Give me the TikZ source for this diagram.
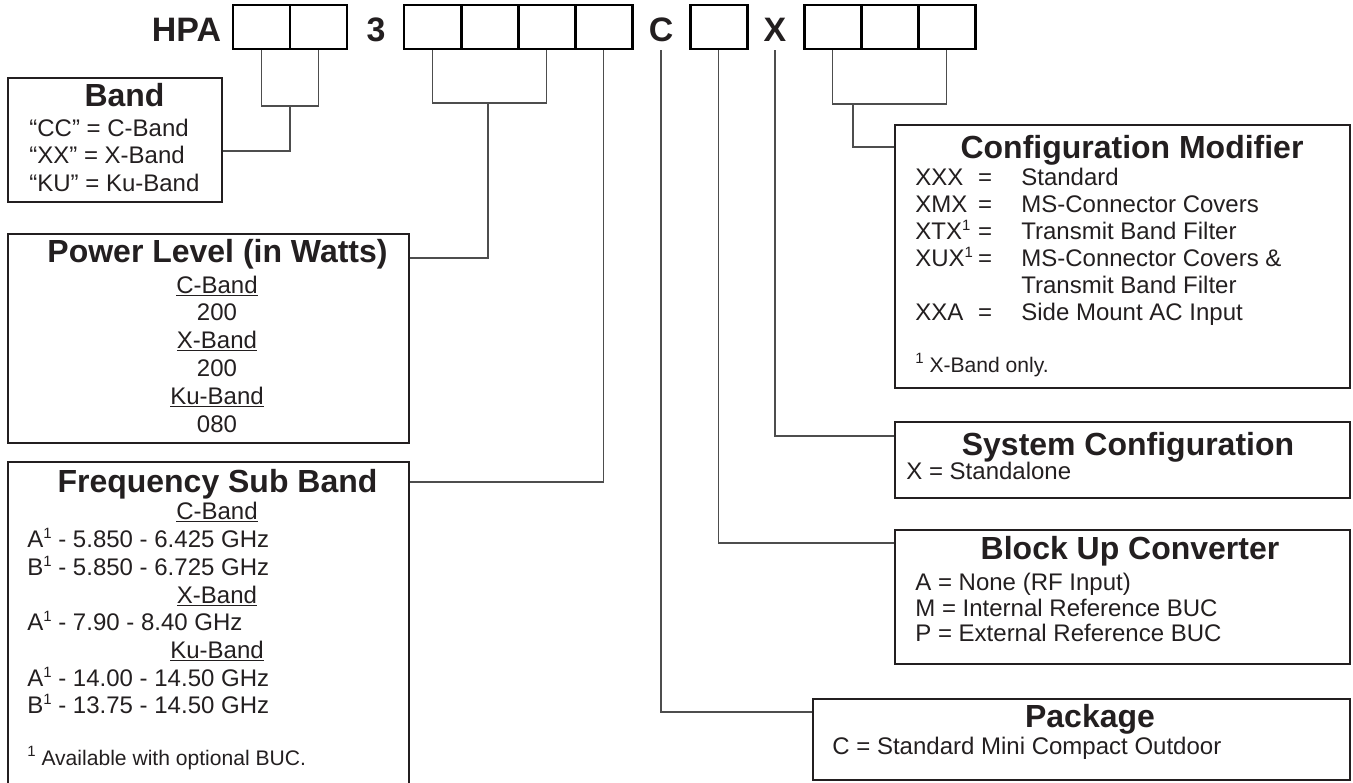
\documentclass[tikz,border=0pt]{standalone}
\usepackage{fontspec}
\setmainfont{Liberation Sans}
\definecolor{ink}{HTML}{231F20}
\definecolor{wire}{HTML}{4D4D4D}
\newcommand{\fnmark}{\raisebox{5pt}{\fontsize{8.5}{9}\selectfont 1}}

\begin{document}
\begin{tikzpicture}[x=0.2cm, y=0.2cm,
  cell/.style={draw=black, line width=1.7pt, minimum width=1.14cm, minimum height=0.88cm},
  frame/.style={draw=ink, line width=1.1pt, anchor=north west},
  link/.style={draw=wire, line width=1.1pt},
  code/.style={font=\fontsize{19.3}{22}\selectfont\bfseries, text=ink, anchor=base},
  head/.style={font=\fontsize{18.2}{21}\selectfont\bfseries, text=ink, anchor=base},
  item/.style={font=\fontsize{13.66}{16}\selectfont, text=ink, anchor=base west},
  sub/.style={item, anchor=base},
  note/.style={font=\fontsize{12}{14}\selectfont, text=ink, anchor=base west}]
\tikzstyle{every node}+=[inner sep=0pt]
\useasboundingbox (0,0) rectangle (135.3,-78.2);
\clip (0,0) rectangle (135.3,-78.2);
\foreach \i/\x in {1/26.15, 2/31.85}
  \node[cell] (hpa\i) at (\x,-2.7) {};
\foreach \i/\x in {1/43.25, 2/48.95, 3/54.65, 4/60.35}
  \node[cell] (pw\i) at (\x,-2.7) {};
\node[cell] (buc) at (71.85,-2.7) {};
\foreach \i/\x in {1/83.25, 2/88.95, 3/94.65}
  \node[cell] (cm\i) at (\x,-2.7) {};
\node[code] (hpa) at (18.65,-4.2) {HPA};
\node[code] (three) at (37.6,-4.2) {3};
\node[code] (pkgc) at (66.1,-4.2) {C};
\node[code] (sysx) at (77.5,-4.2) {X};
\node[frame, minimum width=4.28cm, minimum height=2.48cm] (band) at (0.7,-7.7) {};
\node[frame, minimum width=8.02cm, minimum height=4.18cm] (power) at (0.7,-23.3) {};
\node[frame, minimum width=8.02cm, minimum height=6.8cm] (freq) at (0.7,-46.1) {};
\node[frame, minimum width=9.1cm, minimum height=5.26cm] (cfgmod) at (89.4,-12.4) {};
\node[frame, minimum width=9.1cm, minimum height=1.52cm] (syscfg) at (89.4,-42.1) {};
\node[frame, minimum width=9.1cm, minimum height=2.68cm] (bucbox) at (89.4,-52.9) {};
\node[frame, minimum width=10.74cm, minimum height=1.62cm] (pkg) at (81.2,-69.8) {};
\coordinate (hpaj) at (29.0,-10.6);
\draw[link] (hpa1.south) |- (hpaj) -| (hpa2.south);
\draw[link] (hpaj) |- ([yshift=-42.1pt]band.north east);
\coordinate (pwj) at (48.8,-10.3);
\draw[link] (pw1.south) |- (pwj) -| (pw3.south);
\draw[link] (pwj) |- ([yshift=-14.2pt]power.north east);
\draw[link] (pw4.south) |- ([yshift=-12pt]freq.north east);
\draw[link] (pkgc |- buc.south) |- ([yshift=-8pt]pkg.north west);
\draw[link] (buc.south) |- ([yshift=-8pt]bucbox.north west);
\draw[link] (sysx |- buc.south) |- ([yshift=-8.5pt]syscfg.north west);
\coordinate (cmj) at (85.3,-10.4);
\draw[link] (cm1.south) |- (cmj) -| (cm3.south);
\draw[link] (cmj) |- ([yshift=-13.1pt]cfgmod.north west);
\node[head] (bandt) at (12.45,-10.7) {Band};
\foreach \txt/\y [count=\i] in {“CC” = C-Band/13.6, “XX” = X-Band/16.3, “KU” = Ku-Band/19.1}
  \node[item] (bandl\i) at (2.9,-\y) {\txt};
\node[head] (powert) at (21.75,-26.2) {Power Level (in Watts)};
\foreach \txt/\y [count=\i] in {\underline{C-Band}/29.3, 200/32.0, \underline{X-Band}/34.8, 200/37.6, \underline{Ku-Band}/40.4, 080/43.2}
  \node[sub] (powerl\i) at (21.7,-\y) {\txt};
\node[head] (freqt) at (21.75,-49.2) {Frequency Sub Band};
\foreach \txt/\y [count=\i] in {\underline{C-Band}/51.9, \underline{X-Band}/60.3, \underline{Ku-Band}/65.8}
  \node[sub] (freqs\i) at (21.7,-\y) {\txt};
\foreach \txt/\y [count=\i] in {A\fnmark{} - 5.850 - 6.425 GHz/54.7, B\fnmark{} - 5.850 - 6.725 GHz/57.5, A\fnmark{} - 7.90 - 8.40 GHz/63.0, A\fnmark{} - 14.00 - 14.50 GHz/68.6, B\fnmark{} - 13.75 - 14.50 GHz/71.3}
  \node[item] (freql\i) at (2.7,-\y) {\txt};
\node[note] (freqn) at (2.7,-76.5) {\fnmark{} Available with optional BUC.};
\node[head] (cfgmodt) at (113.2,-15.8) {Configuration Modifier};
\foreach \nm/\eq/\val/\y [count=\i] in {XXX/=/Standard/18.5, XMX/=/MS-Connector Covers/21.2, XTX\fnmark/=/Transmit Band Filter/23.9, XUX\fnmark/=/MS-Connector Covers \&/26.6, {}/{}/Transmit Band Filter/29.3, XXA/=/Side Mount AC Input/32.0}{
  \node[item] (cmn\i) at (91.5,-\y) {\nm};
  \node[sub] (cme\i) at (98.5,-\y) {\eq};
  \node[item] (cmv\i) at (102.1,-\y) {\val};
}
\node[note] (cmnote) at (91.5,-37.2) {\fnmark{} X-Band only.};
\node[head] (syscfgt) at (112.8,-45.5) {System Configuration};
\node[item] (syscfgl) at (90.6,-47.9) {X = Standalone};
\node[head] (bucboxt) at (113.0,-55.9) {Block Up Converter};
\foreach \txt/\y [count=\i] in {A = None (RF Input)/59.0, M = Internal Reference BUC/61.6, P = External Reference BUC/64.1}
  \node[item] (bucl\i) at (91.5,-\y) {\txt};
\node[head] (pkgt) at (109.0,-72.7) {Package};
\node[item] (pkgl) at (83.2,-75.4) {C = Standard Mini Compact Outdoor};
\end{tikzpicture}
\end{document}
